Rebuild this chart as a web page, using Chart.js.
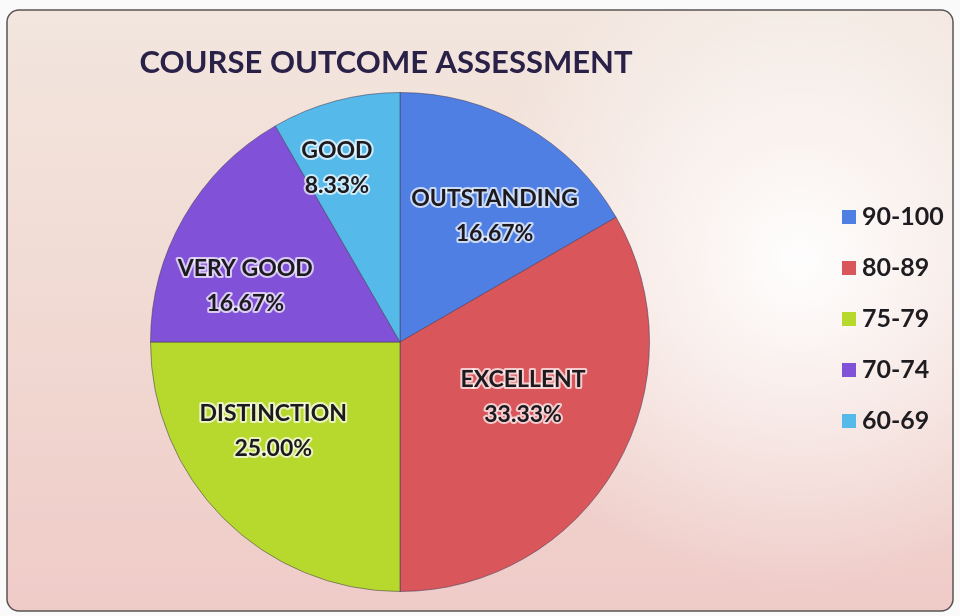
<!DOCTYPE html>
<html>
<head>
<meta charset="utf-8">
<script src="https://cdn.jsdelivr.net/npm/chart.js@4.4.1/dist/chart.umd.min.js"></script>
<style>
  html, body { margin: 0; padding: 0; background: #fbfafa; }
  #wrap { width: 960px; height: 616px; position: relative; }
</style>
</head>
<body>
<div id="wrap"><canvas id="pie" width="960" height="616"></canvas></div>
<script>
// data
const ranges = ['90-100', '80-89', '75-79', '70-74', '60-69'];
const grades = ['OUTSTANDING', 'EXCELLENT', 'DISTINCTION', 'VERY GOOD', 'GOOD'];
const shares = [16.67, 33.33, 25.00, 16.67, 8.33];
const colors = ['#4f7fe2', '#d9565b', '#b7d82c', '#8152d8', '#55b9ea'];

const titleText = 'COURSE OUTCOME ASSESSMENT';
const fontFam = 'Lato, "Open Sans", sans-serif';

// card background behind the pie
const cardBg = {
  id: 'cardBg',
  beforeDraw(chart) {
    const ctx = chart.ctx;
    ctx.save();
    const x = 7, y = 10, w = 946, h = 601, r = 12;
    const g = ctx.createLinearGradient(0, y, 0, y + h);
    g.addColorStop(0, '#f2e6de');
    g.addColorStop(0.5, '#f1dad3');
    g.addColorStop(1, '#efcbc8');
    ctx.beginPath();
    ctx.roundRect(x, y, w, h, r);
    ctx.fillStyle = g;
    ctx.fill();
    // whitish glare on the right side
    const rg = ctx.createRadialGradient(800, 260, 10, 800, 260, 330);
    rg.addColorStop(0, 'rgba(255,255,255,0.95)');
    rg.addColorStop(1, 'rgba(255,255,255,0)');
    ctx.fillStyle = rg;
    ctx.fill();
    ctx.lineWidth = 1.5;
    ctx.strokeStyle = '#5a5454';
    ctx.stroke();
    ctx.restore();
  }
};

// title, slice labels and legend
const extras = {
  id: 'extras',
  afterDatasetsDraw(chart, args, opts) {
    const ctx = chart.ctx;
    ctx.save();
    ctx.textAlign = 'center';
    ctx.textBaseline = 'middle';

    ctx.font = 'bold 31px ' + fontFam;
    ctx.fillStyle = '#2a2148';
    ctx.fillText(titleText, 386, 63);

    const meta = chart.getDatasetMeta(0);
    ctx.font = 'bold 23px ' + fontFam;
    ctx.lineJoin = 'round';
    meta.data.forEach((arc, i) => {
      const p = arc.getProps(['x', 'y', 'startAngle', 'endAngle', 'outerRadius'], true);
      const lp = opts.place[i];
      const mid = (p.startAngle + p.endAngle) / 2 + lp.da * Math.PI / 180;
      const rr = p.outerRadius * lp.f;
      const cx = p.x + Math.cos(mid) * rr;
      const cy = p.y + Math.sin(mid) * rr;
      const lines = [grades[i], shares[i].toFixed(2) + '%'];
      lines.forEach((t, k) => {
        const ty = cy + (k - 0.5) * 35;
        ctx.lineWidth = 4;
        ctx.strokeStyle = 'rgba(255,255,255,0.7)';
        ctx.strokeText(t, cx, ty);
        ctx.fillStyle = '#1c1a1e';
        ctx.fillText(t, cx, ty);
      });
    });

    ctx.textAlign = 'left';
    ctx.font = 'bold 25px ' + fontFam;
    ranges.forEach((t, i) => {
      const y = 217 + i * 51;
      ctx.fillStyle = colors[i];
      ctx.fillRect(842, y - 7, 14, 14);
      ctx.fillStyle = '#1e1c20';
      ctx.fillText(t, 862, y);
    });
    ctx.restore();
  }
};

new Chart(document.getElementById('pie'), {
  type: 'pie',
  data: {
    labels: ranges,
    datasets: [{
      data: shares,
      backgroundColor: colors,
      borderColor: 'rgba(70,60,90,0.55)',
      borderWidth: 1
    }]
  },
  options: {
    responsive: false,
    animation: false,
    layout: { padding: { top: 92, bottom: 24, left: 150, right: 310 } },
    plugins: {
      legend: { display: false },
      tooltip: { enabled: false },
      title: { display: false },
      // best-fit style label placement: angle shift (deg) and radius fraction
      extras: {
        place: [
          { da: 7, f: 0.63 },
          { da: -6, f: 0.54 },
          { da: 10, f: 0.62 },
          { da: -10, f: 0.66 },
          { da: -5, f: 0.74 }
        ]
      }
    }
  },
  plugins: [cardBg, extras]
});
</script>
</body>
</html>
